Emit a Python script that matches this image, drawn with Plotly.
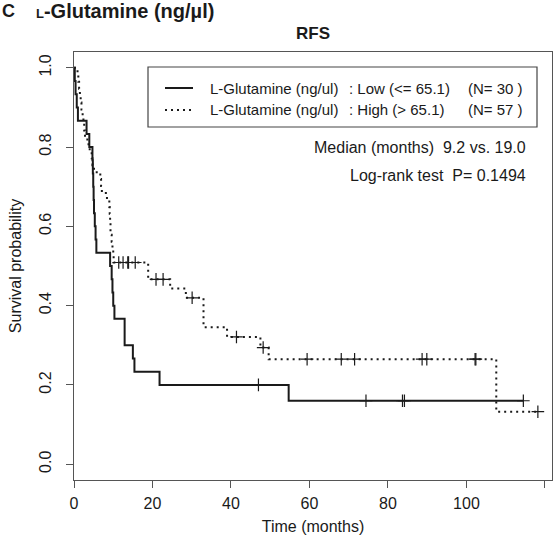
import numpy as np
import plotly.graph_objects as go

# Follow-up (months) and event indicator (1 = relapse, 0 = censored)
low_time = [0.2, 0.4, 0.7, 1.0, 3.2, 3.9, 4.7, 4.8, 4.9, 5.0, 5.1, 5.3, 5.5, 5.7,
            9.2, 9.6, 9.8, 10.0, 10.3, 12.9, 12.9, 15.0, 15.4, 21.8, 47.0, 54.7,
            74.4, 83.7, 84.2, 114.5]
low_event = [1] * 24 + [0, 1, 0, 0, 0, 0]

high_time = [0.9, 1.1, 1.3, 1.5, 1.7, 1.9, 2.2, 2.4, 2.6, 2.8, 3.4, 4.0, 4.5, 4.7,
             5.1, 6.7, 6.9, 7.1, 8.4, 9.0, 9.1, 9.2, 9.3, 9.3, 9.6, 9.8, 10.0, 10.1,
             11.4, 12.5, 13.7, 13.9, 15.6, 18.9, 18.9, 20.9, 22.7, 24.5, 28.5, 30.1,
             33.0, 33.0, 33.0, 39.0, 41.4, 47.5, 48.2, 49.6,
             59.4, 68.1, 71.5, 88.7, 89.9, 102.2, 102.4, 107.6, 118.2]
high_event = ([1] * 28 + [0] * 5 + [1, 1, 0, 0, 1, 1, 0, 1, 1, 1, 1, 0, 1, 0, 1]
              + [0] * 7 + [1, 0])

group_labels = ["L-Glutamine (ng/ul)", "L-Glutamine (ng/ul)"]
group_levels = [": Low (<= 65.1)", ": High (> 65.1)"]
group_n = ["(N= 30 )", "(N= 57 )"]
median_text = "Median (months)  9.2 vs. 19.0"
logrank_text = "Log-rank test  P= 0.1494"

x_ticks = [0, 20, 40, 60, 80, 100, 120]
y_ticks = [0.0, 0.2, 0.4, 0.6, 0.8, 1.0]


def kaplan_meier(times, events):
    t = np.asarray(times, float)
    e = np.asarray(events, int)
    order = np.lexsort((-e, t))
    t, e = t[order], e[order]
    n = len(t)
    s = 1.0
    step_x, step_y = [0.0], [1.0]
    cens_x, cens_y = [], []
    i = 0
    while i < n:
        ti = t[i]
        at_risk = n - i
        d = int(np.sum((t == ti) & (e == 1)))
        c = int(np.sum((t == ti) & (e == 0)))
        if d:
            s *= 1 - d / at_risk
            step_x.append(ti)
            step_y.append(s)
        if c:
            cens_x.extend([ti] * c)
            cens_y.extend([s] * c)
        i += d + c
    step_x.append(t[-1])
    step_y.append(s)
    return step_x, step_y, cens_x, cens_y


FONT = "Liberation Sans, Arial, sans-serif"
INK = "#1a1a1a"

fig = go.Figure()

for times, events, dash in [(low_time, low_event, "solid"),
                            (high_time, high_event, "2px,4px")]:
    sx, sy, cx, cy = kaplan_meier(times, events)
    fig.add_trace(go.Scatter(x=sx, y=sy, mode="lines", line_shape="hv",
                             line=dict(color=INK, width=2, dash=dash),
                             hoverinfo="skip", showlegend=False))
    fig.add_trace(go.Scatter(x=cx, y=cy, mode="markers",
                             marker=dict(symbol="cross-thin", size=9,
                                         line=dict(color=INK, width=1.2)),
                             hoverinfo="skip", showlegend=False))

W, H = 558, 546
L, R, T, B = 74, 6, 52, 66
PW, PH = W - L - R, H - T - B


def px(x):
    """pixel column -> paper x"""
    return (x - L) / PW


def py(y):
    """pixel row -> paper y"""
    return (H - B - y) / PH


axis_common = dict(showline=True, mirror=True, linecolor="#555", linewidth=1.3,
                   ticks="outside", ticklen=7, tickcolor="#555", tickwidth=1.2,
                   showgrid=False, zeroline=False,
                   tickfont=dict(family=FONT, size=16, color=INK))

fig.update_layout(
    width=W, height=H,
    margin=dict(l=L, r=R, t=T, b=B),
    paper_bgcolor="white", plot_bgcolor="white",
    xaxis=dict(range=[0, 121.8], tickvals=x_ticks, ticklabelstandoff=2, **axis_common,
               title=dict(text="Time (months)", standoff=9,
                          font=dict(family=FONT, size=16, color=INK))),
    yaxis=dict(range=[-0.04, 1.04], tickvals=y_ticks, tickformat=".1f",
               tickangle=-90, ticklabelstandoff=8, **axis_common,
               title=dict(text="Survival probability", standoff=11,
                          font=dict(family=FONT, size=16, color=INK))),
)

# legend box
fig.add_shape(type="rect", xref="paper", yref="paper",
              x0=px(148), x1=px(537), y0=py(67), y1=py(127),
              line=dict(color="#444", width=1.2), fillcolor="white", layer="above")
legend_rows = [(88, "solid"), (110, "2px,4px")]
for k, (row_y, dash) in enumerate(legend_rows):
    fig.add_shape(type="line", xref="paper", yref="paper",
                  x0=px(165), x1=px(193), y0=py(row_y), y1=py(row_y),
                  line=dict(color=INK, width=2, dash=dash))
    for xpos, txt in [(208, group_labels[k]), (347, group_levels[k]), (466, group_n[k])]:
        fig.add_annotation(xref="paper", yref="paper", x=px(xpos), y=py(row_y),
                           text=txt, showarrow=False, xanchor="left", yanchor="middle",
                           font=dict(family=FONT, size=15, color=INK))

for row_y, txt in [(147, median_text), (175, logrank_text)]:
    fig.add_annotation(xref="paper", yref="paper", x=px(528), y=py(row_y),
                       text=txt, showarrow=False, xanchor="right", yanchor="middle",
                       font=dict(family=FONT, size=16, color=INK))

# panel header and title
fig.add_annotation(xref="paper", yref="paper", x=px(313), y=py(33), text="<b>RFS</b>",
                   showarrow=False, xanchor="center", yanchor="middle",
                   font=dict(family=FONT, size=17, color=INK))
fig.add_annotation(xref="paper", yref="paper", x=px(34), y=py(11),
                   text="<b><span style='font-size:13px'>L</span>-Glutamine (ng/µl)</b>",
                   showarrow=False, xanchor="left", yanchor="middle",
                   font=dict(family=FONT, size=20, color=INK))
fig.add_annotation(xref="paper", yref="paper", x=px(0), y=py(11), text="<b>C</b>",
                   showarrow=False, xanchor="left", yanchor="middle",
                   font=dict(family=FONT, size=18, color=INK))

fig.write_html("out.html")
